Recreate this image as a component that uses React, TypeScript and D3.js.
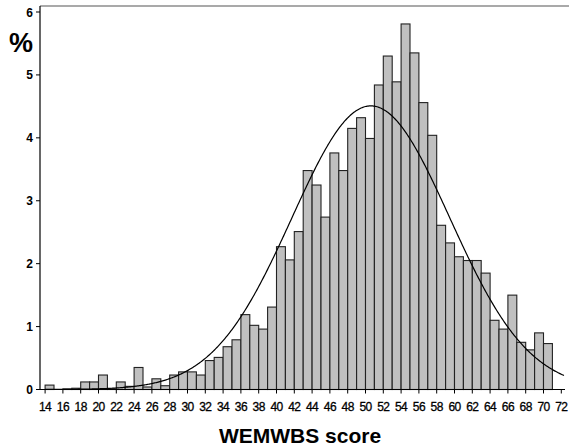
import React from "react";
import * as d3 from "d3";

const scores = [14,15,16,17,18,19,20,21,22,23,24,25,26,27,28,29,30,31,32,33,34,35,36,37,38,39,40,41,42,43,44,45,46,47,48,49,50,51,52,53,54,55,56,57,58,59,60,61,62,63,64,65,66,67,68,69,70];
const percents = [0.07,0,0.01,0.02,0.12,0.12,0.23,0.01,0.12,0.05,0.35,0.04,0.17,0.06,0.23,0.28,0.28,0.23,0.46,0.51,0.68,0.79,1.19,1.02,0.96,1.31,2.27,2.06,2.51,3.48,3.25,2.74,3.76,3.48,4.15,4.32,3.99,4.84,5.30,4.89,5.81,5.35,4.56,4.04,2.61,2.33,2.11,2.05,2.05,1.85,1.10,0.96,1.50,0.75,0.63,0.90,0.73];
const xTicks = d3.range(14, 73, 2);
const yTicks = [0, 1, 2, 3, 4, 5, 6];
const fitMean = 50.6;
const fitSd = 8.85;

const W = 569;
const H = 447;
const FONT = "'Liberation Sans', Arial, sans-serif";

export default function App() {
  const x = d3.scaleLinear().domain([14, 72]).range([45.1, 561.3]);
  const y = d3.scaleLinear().domain([0, 6]).range([389.5, 12]);
  const axisLeft = 40;
  const axisRight = 565;
  const base = y(0);

  const curvePts = d3.range(14, 72.35, 0.1).map((s) => {
    const z = (s - fitMean) / fitSd;
    return [s, (100 / (fitSd * Math.sqrt(2 * Math.PI))) * Math.exp(-0.5 * z * z)] as [number, number];
  });
  const line = d3.line<[number, number]>().x((d) => x(d[0])).y((d) => y(d[1])).curve(d3.curveLinear);

  return (
    <svg width={W} height={H} style={{ position: "absolute", left: 0, top: 0, background: "#fff" }}>
      <line x1={axisLeft} x2={W} y1={6} y2={6} stroke="#555" strokeWidth={1.2} />
      {scores.map((s, i) =>
        percents[i] > 0 ? (
          <rect
            key={s}
            x={x(s)}
            y={y(percents[i])}
            width={x(s + 1) - x(s)}
            height={base - y(percents[i])}
            fill="#c0c0c0"
            stroke="#222"
            strokeWidth={1.1}
          />
        ) : null
      )}
      <path d={line(curvePts) || ""} fill="none" stroke="#000" strokeWidth={1.2} />
      <line x1={axisLeft} x2={axisLeft} y1={6} y2={base} stroke="#000" strokeWidth={1.2} />
      <line x1={axisLeft} x2={axisRight} y1={base} y2={base} stroke="#000" strokeWidth={1.2} />
      {yTicks.map((t) => (
        <g key={t}>
          <line x1={axisLeft - 4} x2={axisLeft} y1={y(t)} y2={y(t)} stroke="#000" strokeWidth={1} />
          <text x={33} y={y(t) + 4.5} textAnchor="end" fontFamily={FONT} fontSize={12} fontWeight="bold" fill="#000">
            {t}
          </text>
        </g>
      ))}
      {xTicks.map((t) => (
        <g key={t}>
          <line x1={x(t)} x2={x(t)} y1={base} y2={base + 4} stroke="#000" strokeWidth={1} />
          <text x={x(t)} y={411} textAnchor="middle" fontFamily={FONT} fontSize={12} letterSpacing={-0.6} fill="#000" stroke="#000" strokeWidth={0.3}>
            {t}
          </text>
        </g>
      ))}
      <text x={21} y={52} textAnchor="middle" fontFamily={FONT} fontSize={27} fontWeight="bold" fill="#000">
        %
      </text>
      <text x={300} y={443} textAnchor="middle" fontFamily={FONT} fontSize={21} fontWeight="bold" fill="#000">
        WEMWBS score
      </text>
    </svg>
  );
}
